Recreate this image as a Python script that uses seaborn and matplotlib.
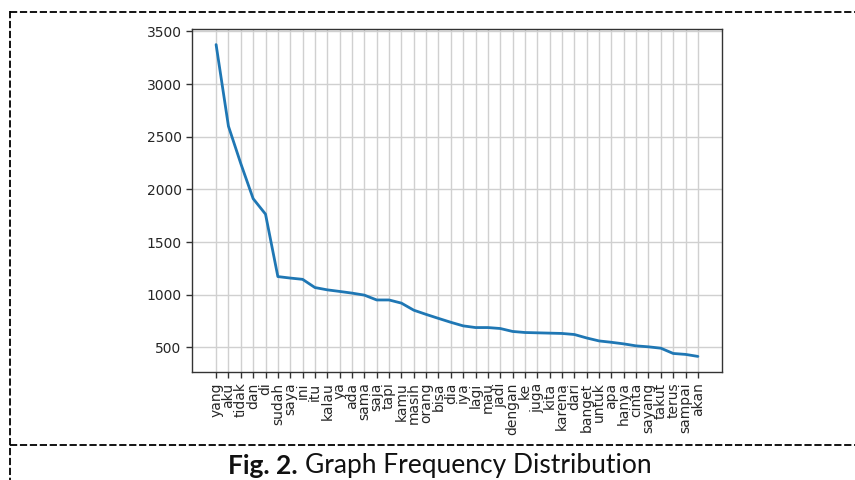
import matplotlib
matplotlib.use("Agg")
import matplotlib.pyplot as plt
import seaborn as sns
import pandas as pd
from matplotlib.lines import Line2D

words = ["yang", "aku", "tidak", "dan", "di", "sudah", "saya", "ini", "itu", "kalau",
         "ya", "ada", "sama", "saja", "tapi", "kamu", "masih", "orang", "bisa", "dia",
         "iya", "lagi", "mau", "jadi", "dengan", "ke", "juga", "kita", "karena", "dari",
         "banget", "untuk", "apa", "hanya", "cinta", "sayang", "takut", "terus", "sampai", "akan"]
freqs = [3375, 2600, 2245, 1912, 1765, 1172, 1158, 1146, 1068, 1046,
         1031, 1015, 996, 950, 950, 920, 853, 813, 775, 738,
         704, 688, 688, 679, 651, 641, 638, 635, 632, 622,
         589, 561, 548, 533, 514, 505, 492, 442, 433, 414]

df = pd.DataFrame({"word": words, "freq": freqs})

sns.set_style("white")
plt.rcParams["font.family"] = ["DejaVu Sans"]

fig = plt.figure(figsize=(8.55, 4.8), dpi=100)
ax = fig.add_axes([192/855, 1 - 372/480, (722-192)/855, (372-29)/480])

sns.lineplot(data=df, x="word", y="freq", sort=False, ax=ax, color="#1f77b4", linewidth=2)
ax.set_xlabel("")
ax.set_ylabel("")
ax.margins(x=0.05, y=0.05)
ax.grid(True, color="#d0d0d0", linewidth=1)
ax.set_axisbelow(True)
ax.set_yticks([500, 1000, 1500, 2000, 2500, 3000, 3500])
ax.set_xticks(range(len(words)))
ax.set_xticklabels(words, rotation=90, fontsize=10, color="#262626")
ax.tick_params(axis="y", labelsize=10, labelcolor="#262626")
ax.tick_params(axis="both", which="major", length=4, width=1, color="#333333", direction="out",
               bottom=True, left=True)
for s in ax.spines.values():
    s.set_visible(True)
    s.set_color("#333333")
    s.set_linewidth(1)

# dashed frame lines
def hline(y, x0, x1):
    fig.add_artist(Line2D([x0/855, x1/855], [1 - y/480, 1 - y/480], color="black",
                          linestyle=(0, (4, 1.5)), linewidth=1.3, transform=fig.transFigure))
def vline(x, y0, y1):
    fig.add_artist(Line2D([x/855, x/855], [1 - y0/480, 1 - y1/480], color="black",
                          linestyle=(0, (4, 1.5)), linewidth=1.3, transform=fig.transFigure))

hline(12, 10, 855)
hline(445, 10, 855)
vline(10, 11, 480)

cap_font = ["Lato", "DejaVu Sans"]
t1 = fig.text(228/855, 1 - 466/480, "Fig. 2.", fontweight="bold", fontsize=19,
              family=cap_font, va="center", ha="left", color="#111111")
fig.canvas.draw()
bb = t1.get_window_extent()
fig.text((bb.x1 + 7)/855, 1 - 466/480, "Graph Frequency Distribution", fontsize=19,
         family=cap_font, va="center", ha="left", color="#111111")

fig.savefig("out.png", dpi=100)
